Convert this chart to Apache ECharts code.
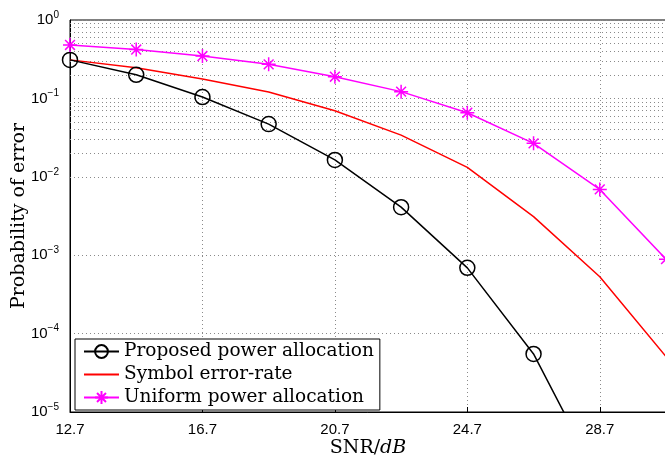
<!DOCTYPE html>
<html>
<head>
<meta charset="utf-8">
<script src="https://cdn.jsdelivr.net/npm/echarts@6/dist/echarts.min.js"></script>
<style>html,body{margin:0;padding:0;background:#fff}#chart{width:665px;height:457px}</style>
</head>
<body>
<div id="chart"></div>
<script>
var snrLabels = ['12.7','14.7','16.7','18.7','20.7','22.7','24.7','26.7','28.7','30.7'];
var proposedPe = [0.31, 0.2, 0.104, 0.047, 0.0164, 0.0041, 0.00069, 0.000055, 0.0000013];
var symbolErrRate = [0.31, 0.246, 0.177, 0.121, 0.0697, 0.034, 0.0132, 0.0031, 0.00053, 0.000051];
var uniformPe = [0.48, 0.42, 0.347, 0.272, 0.189, 0.122, 0.0657, 0.0267, 0.0069, 0.00089];
var yDecades = [-5, -4, -3, -2, -1];
var yMinorMults = [2, 3, 4, 5, 6, 7, 8, 9];

var serif = "'DejaVu Serif', 'Liberation Serif', serif";
var sans = "'Liberation Sans', Arial, sans-serif";
var dotGrid = {color: '#8a8a8a', width: 1, type: [1, 3]};

// minor log grid lines (2..9 in every decade)
var minorLines = [];
yDecades.forEach(function(d){
	yMinorMults.forEach(function(m){
		minorLines.push({yAxis: m * Math.pow(10, d)});
	});
});

var myChart = echarts.init(document.getElementById('chart'));
var option = {
	animation: false,
	backgroundColor: '#fff',
	grid: {
		left: 70,
		top: 20,
		right: -1,
		bottom: 45,
		outerBoundsMode: 'none',
		containLabel: false,
		show: true,
		borderColor: '#000',
		borderWidth: 1
	},
	legend: {
		orient: 'vertical',
		left: 75,
		top: 339,
		itemWidth: 35,
		itemHeight: 16,
		itemGap: 4,
		padding: [3, 6, 3, 8],
		backgroundColor: '#fff',
		borderColor: '#000',
		borderWidth: 1,
		textStyle: {fontFamily: serif, fontSize: 18.5, color: '#000'},
		data: ['Proposed power allocation', 'Symbol error-rate', 'Uniform power allocation']
	},
	xAxis: {
		type: 'category',
		data: snrLabels,
		boundaryGap: false,
		name: 'SNR/{i|dB}',
		nameLocation: 'middle',
		nameGap: 27,
		nameMoveOverlap: false,
		nameTextStyle: {
			fontFamily: serif, fontSize: 19, color: '#000',
			rich: {i: {fontFamily: serif, fontSize: 19, fontStyle: 'italic', color: '#000'}}
		},
		axisLine: {lineStyle: {color: '#000', width: 1}},
		axisTick: {inside: true, length: 5, interval: 1, lineStyle: {color: '#000'}},
		axisLabel: {interval: 1, color: '#000', fontFamily: sans, fontSize: 15, margin: 10},
		splitLine: {show: true, interval: 1, lineStyle: dotGrid}
	},
	yAxis: {
		type: 'log',
		logBase: 10,
		min: 1e-5,
		max: 1,
		splitNumber: 5,
		name: 'Probability of error',
		nameLocation: 'middle',
		nameGap: 41,
		nameMoveOverlap: false,
		nameTextStyle: {fontFamily: serif, fontSize: 19, color: '#000'},
		axisLine: {show: true, lineStyle: {color: '#000', width: 1}},
		axisTick: {inside: true, length: 5, lineStyle: {color: '#000'}},
		axisLabel: {
			color: '#000',
			margin: 11,
			formatter: function(v){
				var e = Math.round(Math.log(v) / Math.LN10);
				return '{b|10}{s|' + (e < 0 ? '\u2212' + (-e) : e) + '}';
			},
			rich: {
				b: {fontFamily: sans, fontSize: 15, color: '#000'},
				s: {fontFamily: sans, fontSize: 10, color: '#000', padding: [0, 0, 10, 0]}
			}
		},
		splitLine: {show: true, lineStyle: dotGrid}
	},
	series: [{
		name: 'Symbol error-rate',
		type: 'line',
		data: symbolErrRate,
		symbol: 'none',
		clip: true,
		lineStyle: {color: '#ff0000', width: 1.5},
		itemStyle: {color: 'rgba(0,0,0,0)'},
		markLine: {
			silent: true,
			symbol: ['none', 'none'],
			label: {show: false},
			lineStyle: dotGrid,
			data: minorLines,
			z: 1
		}
	}, {
		name: 'Proposed power allocation',
		type: 'line',
		data: proposedPe,
		symbol: 'circle',
		symbolSize: 15,
		clip: true,
		lineStyle: {color: '#000', width: 1.5},
		itemStyle: {color: 'rgba(0,0,0,0)', borderColor: '#000', borderWidth: 1.5}
	}, {
		name: 'Uniform power allocation',
		type: 'line',
		data: uniformPe,
		symbol: 'path://M10,0L10,20M0,10L20,10M3,3L17,17M3,17L17,3',
		symbolSize: 14,
		clip: true,
		lineStyle: {color: '#ff00ff', width: 1.5},
		itemStyle: {color: '#ff00ff', borderColor: '#ff00ff', borderWidth: 1.5}
	}]
};
myChart.setOption(option);
</script>
</body>
</html>
